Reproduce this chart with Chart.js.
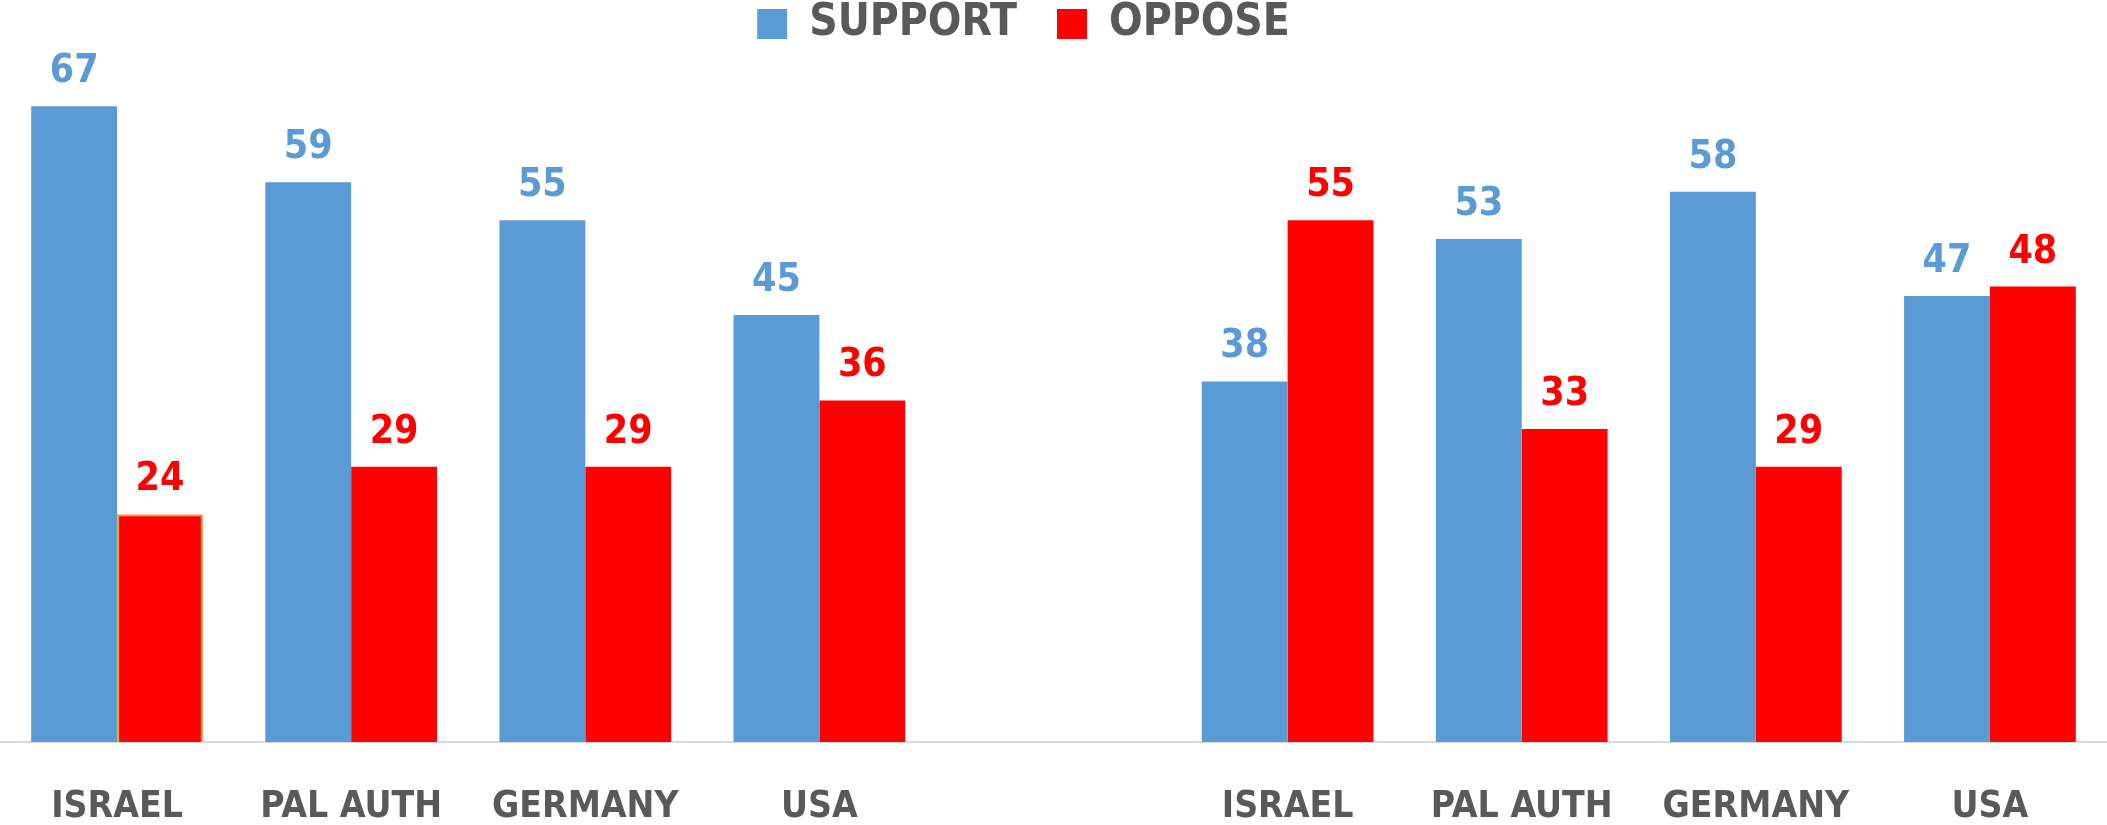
<!DOCTYPE html>
<html>
<head>
<meta charset="utf-8">
<script src="https://cdn.jsdelivr.net/npm/chart.js@4/dist/chart.umd.min.js"></script>
<style>
  html, body { margin: 0; padding: 0; background: #fff; }
  #wrap { width: 2107px; height: 825px; }
</style>
</head>
<body>
<div id="wrap"><canvas id="chart"></canvas></div>
<script>
// データ（中央の空カテゴリで左右2グループに分ける）
const categories = ['ISRAEL', 'PAL AUTH', 'GERMANY', 'USA', '', 'ISRAEL', 'PAL AUTH', 'GERMANY', 'USA'];
const supportValues = [67, 59, 55, 45, null, 38, 53, 58, 47];
const opposeValues = [24, 29, 29, 36, null, 55, 33, 29, 48];

const BLUE = '#5B9BD5';
const RED = '#FF0000';
const GRAY = '#595959';
const FONT = "'Liberation Sans Narrow', 'DejaVu Sans Condensed', sans-serif";

// 棒の上に数値を描くプラグイン
const valueLabels = {
  id: 'valueLabels',
  afterDatasetsDraw(chart) {
    const ctx = chart.ctx;
    ctx.save();
    ctx.font = 'bold 39px ' + FONT;
    ctx.textAlign = 'center';
    ctx.textBaseline = 'alphabetic';
    chart.data.datasets.forEach(function (ds, i) {
      const meta = chart.getDatasetMeta(i);
      ctx.fillStyle = ds.backgroundColor;
      meta.data.forEach(function (bar, j) {
        const v = ds.data[j];
        if (v === null) return;
        ctx.fillText(String(v), bar.x, bar.y - 24);
      });
    });
    ctx.restore();
  }
};

// 凡例を少し左へずらす（元の図は中央より左寄り）
const legendShift = {
  id: 'legendShift',
  afterLayout(chart) {
    if (chart.legend) {
      chart.legend.left -= 30;
      chart.legend.right -= 30;
    }
  }
};

const ctx = document.getElementById('chart').getContext('2d');
new Chart(ctx, {
  type: 'bar',
  data: {
    labels: categories,
    datasets: [
      {
        label: 'SUPPORT',
        data: supportValues,
        backgroundColor: BLUE,
        borderWidth: 0
      },
      {
        label: 'OPPOSE',
        data: opposeValues,
        backgroundColor: RED,
        borderColor: '#F0A030',
        borderWidth: [2, 0, 0, 0, 0, 0, 0, 0, 0] // 左のISRAELだけ細いオレンジ枠
      }
    ]
  },
  options: {
    responsive: true,
    maintainAspectRatio: false,
    animation: false,
    layout: { padding: { top: -38, left: 0, right: 0, bottom: 0 } },
    datasets: {
      bar: { categoryPercentage: 0.7335, barPercentage: 1 }
    },
    scales: {
      x: {
        grid: { display: false, drawTicks: false },
        border: { display: true, color: '#D9D9D9', width: 2 },
        ticks: {
          color: GRAY,
          font: { family: FONT, size: 37, weight: 'bold', lineHeight: 1.15 },
          padding: 44,
          maxRotation: 0,
          autoSkip: false
        },
        // 軸の高さを固定して、プロット下端を合わせる
        afterFit: function (scale) {
          scale.height = 83;
        }
      },
      y: {
        display: false,
        min: 0,
        max: 72.3
      }
    },
    plugins: {
      legend: {
        position: 'top',
        labels: {
          boxWidth: 30,
          boxHeight: 30,
          padding: 40,
          color: GRAY,
          font: { family: FONT, size: 44, weight: 'bold' },
          // 凡例の四角には枠線をつけない
          generateLabels: function (chart) {
            const items = Chart.defaults.plugins.legend.labels.generateLabels(chart);
            items.forEach(function (item) {
              item.lineWidth = 0;
              item.strokeStyle = item.fillStyle;
            });
            return items;
          }
        }
      },
      tooltip: { enabled: false }
    }
  },
  plugins: [valueLabels, legendShift]
});
</script>
</body>
</html>
